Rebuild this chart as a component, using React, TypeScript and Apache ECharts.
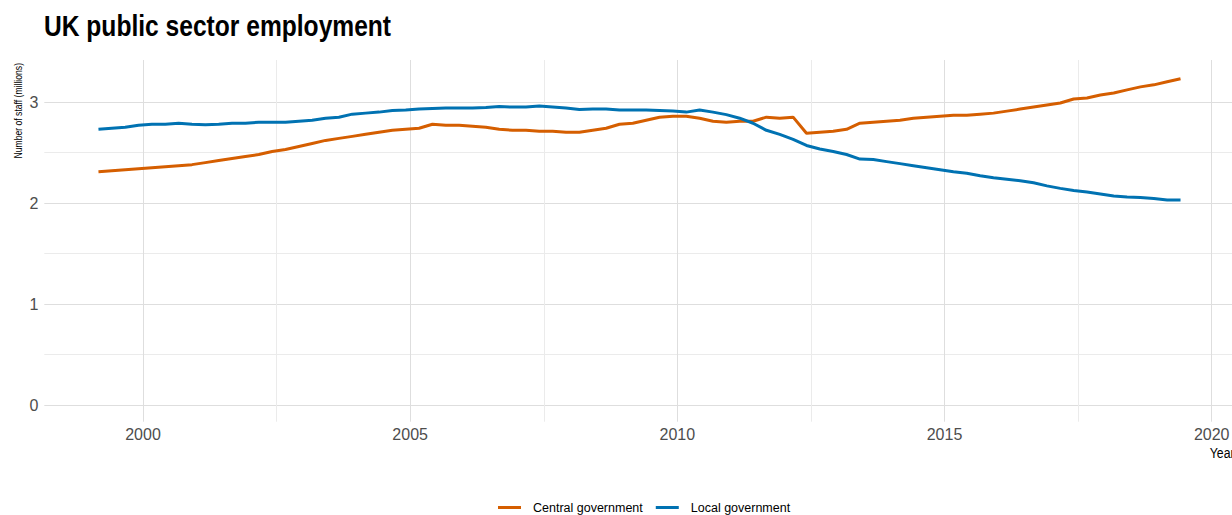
import React, { useEffect, useRef } from "react";
import * as echarts from "echarts";

// Quarterly periods, 1999 Q1 – 2019 Q2
const startYear = 1999;
const quarterCount = 82;

// Millions of staff
const centralGovernment = [
  2.31, 2.32, 2.33, 2.34, 2.35, 2.36, 2.37, 2.38,
  2.40, 2.42, 2.44, 2.46, 2.48, 2.51, 2.53, 2.56,
  2.59, 2.62, 2.64, 2.66, 2.68, 2.70, 2.72, 2.73,
  2.74, 2.78, 2.77, 2.77, 2.76, 2.75, 2.73, 2.72,
  2.72, 2.71, 2.71, 2.70, 2.70, 2.72, 2.74, 2.78,
  2.79, 2.82, 2.85, 2.86, 2.86, 2.84, 2.81, 2.80,
  2.81, 2.81, 2.85, 2.84, 2.85, 2.69, 2.70, 2.71,
  2.73, 2.79, 2.80, 2.81, 2.82, 2.84, 2.85, 2.86,
  2.87, 2.87, 2.88, 2.89, 2.91, 2.93, 2.95, 2.97,
  2.99, 3.03, 3.04, 3.07, 3.09, 3.12, 3.15, 3.17,
  3.20, 3.23,
];

const localGovernment = [
  2.73, 2.74, 2.75, 2.77, 2.78, 2.78, 2.79, 2.78,
  2.775, 2.78, 2.79, 2.79, 2.80, 2.80, 2.80, 2.81,
  2.82, 2.84, 2.85, 2.88, 2.89, 2.90, 2.915, 2.92,
  2.93, 2.935, 2.94, 2.94, 2.94, 2.945, 2.955, 2.95,
  2.95, 2.96, 2.95, 2.94, 2.925, 2.93, 2.93, 2.92,
  2.92, 2.92, 2.915, 2.91, 2.90, 2.92, 2.90, 2.875,
  2.84, 2.79, 2.72, 2.68, 2.63, 2.57, 2.535, 2.51,
  2.48, 2.435, 2.43, 2.41, 2.39, 2.37, 2.35, 2.33,
  2.31, 2.295, 2.27, 2.25, 2.235, 2.22, 2.20, 2.17,
  2.145, 2.125, 2.11, 2.09, 2.07, 2.06, 2.055, 2.045,
  2.03, 2.03,
];

const xMajorTicks = [2000, 2005, 2010, 2015, 2020];
const xMinorTicks = [2002.5, 2007.5, 2012.5, 2017.5];
const yMajorTicks = [0, 1, 2, 3];
const yMinorTicks = [0.5, 1.5, 2.5];

const seriesNames = ["Central government", "Local government"];
const seriesColors = ["#D55E00", "#0072B2"];

// Quarter end month: Mar, Jun, Sep, Dec -> decimal year
const quarterTimes: number[] = [];
for (let i = 0; i < quarterCount; i++) {
  const y = startYear + Math.floor(i / 4);
  const q = i % 4;
  quarterTimes.push(y + (q * 3 + 2) / 12);
}

const FONT = "'Liberation Sans', Arial, Helvetica, sans-serif";
const NARROW = 0.82;

export default function App() {
  const ref = useRef<HTMLDivElement>(null);

  useEffect(() => {
    if (!ref.current) return;
    const chart = echarts.init(ref.current, undefined, { renderer: "svg" });

    const toPairs = (vals: number[]) => vals.map((v, i) => [quarterTimes[i], v]);

    const xMin = 1998.153;
    const xMax = 2020.38;
    const yMin = -0.165;
    const yMax = 3.416;

    chart.setOption({
      animation: false,
      backgroundColor: "#ffffff",
      textStyle: { fontFamily: FONT },
      grid: {
        left: 44.3,
        right: 0,
        top: 60,
        bottom: 93.3,
        containLabel: false,
        outerBoundsMode: "none",
      },
      xAxis: [
        {
          type: "value",
          min: xMin,
          max: xMax,
          axisLine: { show: false },
          axisTick: { show: false, customValues: xMajorTicks },
          axisLabel: {
            customValues: xMajorTicks,
            formatter: (v: number) => String(v),
            color: "#4d4d4d",
            fontSize: 16,
            fontFamily: FONT,
            margin: 5,
          },
          splitLine: { show: true, lineStyle: { color: "#dedede", width: 1 } },
        },
        {
          type: "value",
          position: "top",
          min: xMin,
          max: xMax,
          axisLine: { show: false },
          axisTick: { show: false, customValues: xMinorTicks },
          axisLabel: { show: false, customValues: xMinorTicks },
          splitLine: { show: true, lineStyle: { color: "#ebebeb", width: 1 } },
        },
      ],
      yAxis: [
        {
          type: "value",
          min: yMin,
          max: yMax,
          axisLine: { show: false },
          axisTick: { show: false, customValues: yMajorTicks },
          axisLabel: {
            customValues: yMajorTicks,
            formatter: (v: number) => String(v),
            color: "#4d4d4d",
            fontSize: 16,
            fontFamily: FONT,
            margin: 6,
          },
          splitLine: { show: true, lineStyle: { color: "#dedede", width: 1 } },
        },
        {
          type: "value",
          position: "right",
          min: yMin,
          max: yMax,
          axisLine: { show: false },
          axisTick: { show: false, customValues: yMinorTicks },
          axisLabel: { show: false, customValues: yMinorTicks },
          splitLine: { show: true, lineStyle: { color: "#ebebeb", width: 1 } },
        },
      ],
      legend: {
        data: seriesNames,
        left: 493,
        top: 496,
        icon: "rect",
        itemWidth: 23,
        itemHeight: 3,
        itemGap: 13,
        textStyle: {
          color: "#000000",
          fontSize: 12.5,
          fontFamily: FONT,
          padding: [0, 0, 0, 7],
        },
      },
      graphic: [
        {
          type: "text",
          x: 44,
          y: 11,
          scaleX: NARROW,
          style: {
            text: "UK public sector employment",
            fontSize: 30,
            fontWeight: "bold",
            fontFamily: FONT,
            fill: "#000000",
            verticalAlign: "top",
          },
        },
        {
          type: "text",
          x: 18,
          y: 63,
          rotation: Math.PI / 2,
          scaleX: NARROW,
          style: {
            text: "Number of staff (millions)",
            fontSize: 10.5,
            fontFamily: FONT,
            fill: "#000000",
            align: "right",
            verticalAlign: "middle",
          },
        },
        {
          type: "text",
          x: 1234.6,
          y: 453,
          scaleX: NARROW,
          style: {
            text: "Year",
            fontSize: 15,
            fontFamily: FONT,
            fill: "#000000",
            align: "right",
            verticalAlign: "middle",
          },
        },
      ],
      series: [
        {
          name: seriesNames[0],
          type: "line",
          xAxisIndex: 0,
          yAxisIndex: 0,
          data: toPairs(centralGovernment),
          showSymbol: false,
          symbol: "none",
          lineStyle: { color: seriesColors[0], width: 3 },
          itemStyle: { color: seriesColors[0] },
        },
        {
          name: seriesNames[1],
          type: "line",
          xAxisIndex: 0,
          yAxisIndex: 0,
          data: toPairs(localGovernment),
          showSymbol: false,
          symbol: "none",
          lineStyle: { color: seriesColors[1], width: 3 },
          itemStyle: { color: seriesColors[1] },
        },
      ],
    });

    return () => chart.dispose();
  }, []);

  return (
    <div
      ref={ref}
      style={{ position: "absolute", left: 0, top: 0, width: 1232, height: 515 }}
    />
  );
}
